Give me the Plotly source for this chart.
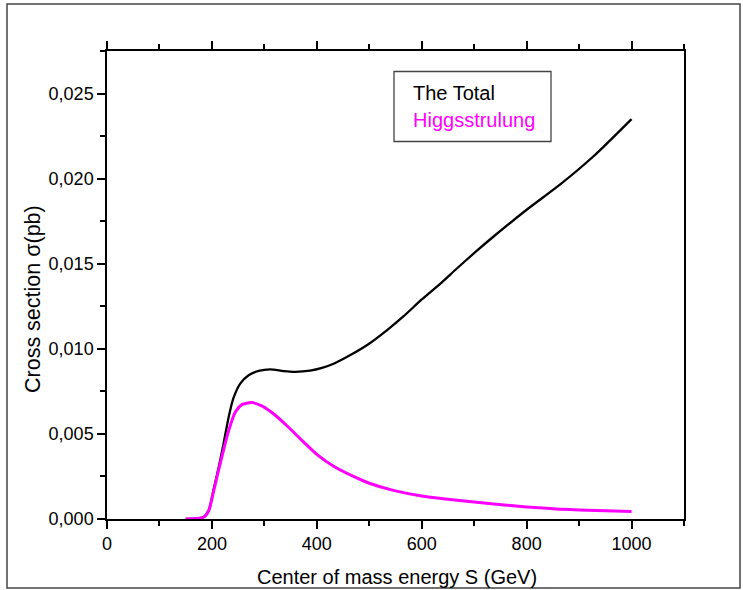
import plotly.graph_objects as go

# ---- data ----
total_x = [150, 184, 194, 203, 213, 222, 232, 241, 254, 270, 289, 311, 337, 359, 387,
           410, 432, 464, 496, 534, 565, 600, 635, 667, 702, 737, 800, 864, 927, 1000]
total_y = [0.0, 0.0001, 0.0005, 0.0017, 0.00305, 0.0044, 0.0060, 0.0071, 0.00796, 0.00845,
           0.0087, 0.00879, 0.00869, 0.00865, 0.00872, 0.00888, 0.00912, 0.00963, 0.01022,
           0.0111, 0.0119, 0.01290, 0.01382, 0.01472, 0.01568, 0.0166, 0.01817, 0.01966,
           0.0213, 0.0235]

higgs_x = [150, 184, 194, 203, 213, 222, 232, 245, 257, 276, 295, 318, 343, 375, 400, 432,
           470, 500, 546, 600, 654, 700, 737, 800, 864, 900, 1000]
higgs_y = [0.0, 0.0001, 0.0005, 0.0016, 0.0029, 0.00403, 0.0052, 0.0063, 0.00672, 0.00684,
           0.00665, 0.00617, 0.00548, 0.00452, 0.0038, 0.0031, 0.0025, 0.0021, 0.00168,
           0.00135, 0.00115, 0.00100, 0.00088, 0.00071, 0.00058, 0.00053, 0.00044]

series_names = ["The Total", "Higgsstrulung"]
x_title = "Center of mass energy S (GeV)"
y_title = "Cross section σ(pb)"

# ---- layout geometry (pixels) ----
W, H = 743, 590
L, R, T, B = 107, 684, 51, 519
FONT = "Liberation Sans, Arial, sans-serif"


def px(x):
    return (x - L) / (R - L)


def py(y):
    return (B - y) / (B - T)


fig = go.Figure()
fig.add_trace(go.Scatter(x=total_x, y=total_y, mode="lines", name=series_names[0],
                         line=dict(color="black", width=2.3, shape="spline", smoothing=0.7),
                         showlegend=False))
fig.add_trace(go.Scatter(x=higgs_x, y=higgs_y, mode="lines", name=series_names[1],
                         line=dict(color="#ff00ff", width=3, shape="spline", smoothing=0.7),
                         showlegend=False))

axis_common = dict(showline=True, linecolor="black", linewidth=1.5, ticks="outside",
                   ticklen=8, tickwidth=1.5, tickcolor="black", showgrid=False,
                   zeroline=False, tickfont=dict(family=FONT, size=18, color="black"))

fig.update_xaxes(range=[0, 1100], tick0=0, dtick=200, mirror="allticks",
                 minor=dict(dtick=100, tick0=0, ticklen=5, tickwidth=1.5, tickcolor="black",
                            ticks="outside", showgrid=False),
                 **axis_common)
fig.update_yaxes(range=[0, 0.0275], tick0=0, dtick=0.005, tickformat=".3f", mirror=True,
                 minor=dict(dtick=0.0025, tick0=0, ticklen=5, tickwidth=1.5, tickcolor="black",
                            ticks="outside", showgrid=False),
                 **axis_common)

shapes = [
    # outer frame
    dict(type="rect", xref="paper", yref="paper", x0=px(7), x1=px(740), y0=py(588), y1=py(4),
         line=dict(color="#444444", width=1.5), fillcolor="rgba(0,0,0,0)", layer="below"),
    # legend box
    dict(type="rect", xref="paper", yref="paper", x0=px(394), x1=px(551), y0=py(141.5), y1=py(71.5),
         line=dict(color="#444444", width=1.3), fillcolor="white"),
]

annotations = [
    dict(text=series_names[0], x=px(411), y=py(93), xref="paper", yref="paper",
         xanchor="left", yanchor="middle", showarrow=False,
         font=dict(family=FONT, size=20, color="black")),
    dict(text=series_names[1], x=px(411), y=py(120), xref="paper", yref="paper",
         xanchor="left", yanchor="middle", showarrow=False,
         font=dict(family=FONT, size=20, color="#ff00ff")),
    dict(text=x_title, x=px(397), y=py(577), xref="paper", yref="paper",
         xanchor="center", yanchor="middle", showarrow=False,
         font=dict(family=FONT, size=20, color="black")),
    dict(text=y_title, x=px(33), y=py(299), xref="paper", yref="paper", textangle=-90,
         xanchor="center", yanchor="middle", showarrow=False,
         font=dict(family=FONT, size=21.5, color="black")),
]

fig.update_layout(width=W, height=H, margin=dict(l=L, r=W - R, t=T, b=H - B, pad=0),
                  paper_bgcolor="white", plot_bgcolor="white", separators=",.",
                  shapes=shapes, annotations=annotations, showlegend=False,
                  font=dict(family=FONT, color="black"))

fig.write_html("out.html")
